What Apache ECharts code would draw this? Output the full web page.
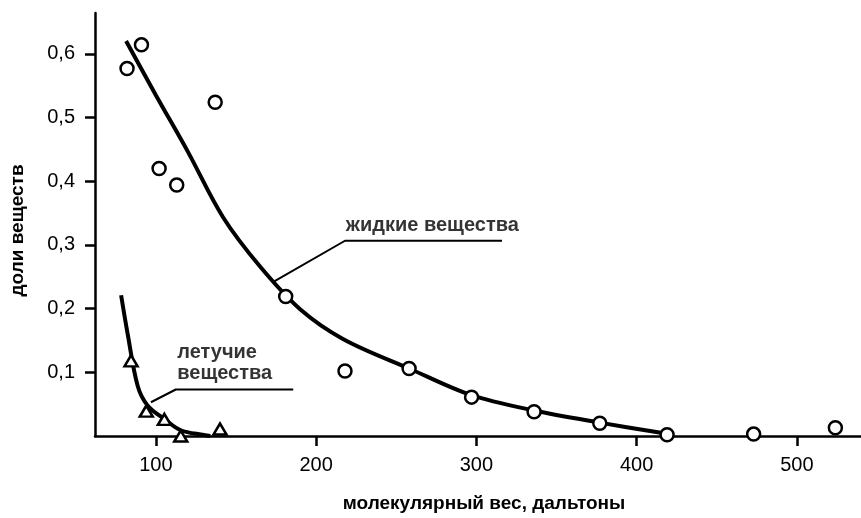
<!DOCTYPE html>
<html>
<head>
<meta charset="utf-8">
<script src="https://cdn.jsdelivr.net/npm/echarts@6/dist/echarts.min.js"></script>
<style>
  html, body { margin: 0; padding: 0; background: #fff; }
  #chart { width: 861px; height: 518px; }
</style>
</head>
<body>
<div id="chart"></div>
<script>
// ---- data ----
const xTicks = [100, 200, 300, 400, 500];
const yTicks = [0.1, 0.2, 0.3, 0.4, 0.5, 0.6];

// liquid substances (circles)
const liquidX = [82, 91, 102, 113, 137, 181, 218, 258, 297, 336, 377, 419, 473, 524];
const liquidY = [0.577, 0.614, 0.420, 0.394, 0.524, 0.219, 0.102, 0.106, 0.061, 0.038, 0.020, 0.002, 0.003, 0.013];

// volatile substances (triangles)
const volatileX = [84.5, 94, 105.3, 115.5, 140];
const volatileY = [0.118, 0.039, 0.026, 0.000, 0.011];

// hand-drawn trend curves
const liquidCurveX = [81.4, 100, 120, 142, 165, 190, 217, 258, 297, 336, 377, 420];
const liquidCurveY = [0.620, 0.535, 0.446, 0.343, 0.266, 0.199, 0.152, 0.106, 0.064, 0.040, 0.021, 0.003];
const volatileCurveX = [78.3, 82.4, 88.6, 94.8, 105.6, 115.5, 130, 134];
const volatileCurveY = [0.221, 0.160, 0.079, 0.048, 0.026, 0.009, 0.0015, 0.0];

// annotation leader lines and labels
const liquidLeaderX = [173.3, 218, 316];
const liquidLeaderY = [0.242, 0.3065, 0.3065];
const volatileLeaderX = [96.9, 112.4, 185.7];
const volatileLeaderY = [0.053, 0.073, 0.073];
const labelTexts = ['жидкие вещества', 'летучие', 'вещества'];
const labelX = [218.2, 113.0, 113.0];
const labelY = [0.331, 0.131, 0.098];

const xName = 'молекулярный вес, дальтоны';
const yName = 'доли веществ';

// ---- build ----
const zip = (a, b) => a.map((v, i) => [v, b[i]]);
const INK = '#000';
const FONT = '"Liberation Sans", Arial, sans-serif';

const chart = echarts.init(document.getElementById('chart'), null, { renderer: 'canvas' });

chart.setOption({
  animation: false,
  backgroundColor: '#fff',
  grid: { left: 92, right: 0, top: 13, bottom: 77, containLabel: false },
  xAxis: {
    type: 'value', min: 62, max: 540,
    splitLine: { show: false },
    axisLine: { show: true, onZero: false, lineStyle: { color: INK, width: 2.5 } },
    axisTick: { show: true, length: 10, customValues: xTicks, lineStyle: { color: INK, width: 2.5 } },
    axisLabel: { customValues: xTicks, margin: 19, color: INK, fontSize: 20, fontFamily: FONT },
    name: xName, nameLocation: 'middle', nameGap: 58,
    nameTextStyle: { color: INK, fontSize: 19, fontWeight: 'bold', fontFamily: FONT, padding: [0, 0, 0, 12] }
  },
  yAxis: {
    type: 'value', min: 0, max: 0.664,
    splitLine: { show: false },
    axisLine: { show: true, onZero: false, lineStyle: { color: INK, width: 2.5 } },
    axisTick: { show: true, length: 10, customValues: yTicks, lineStyle: { color: INK, width: 2.5 } },
    axisLabel: {
      customValues: yTicks, margin: 20, color: INK, fontSize: 20, fontFamily: FONT,
      formatter: v => v.toFixed(1).replace('.', ',')
    },
    name: yName, nameLocation: 'middle', nameGap: 68,
    nameTextStyle: { color: INK, fontSize: 19, fontWeight: 'bold', fontFamily: FONT, padding: [0, 12, 0, 0] }
  },
  series: [
    {
      type: 'line', data: zip(liquidCurveX, liquidCurveY), smooth: 0.35, symbol: 'none',
      lineStyle: { color: INK, width: 4 }, z: 2
    },
    {
      type: 'line', data: zip(volatileCurveX, volatileCurveY), smooth: 0.35, symbol: 'none',
      lineStyle: { color: INK, width: 4 }, z: 2
    },
    {
      type: 'line', data: zip(liquidLeaderX, liquidLeaderY), symbol: 'none',
      lineStyle: { color: INK, width: 2 }, z: 2
    },
    {
      type: 'line', data: zip(volatileLeaderX, volatileLeaderY), symbol: 'none',
      lineStyle: { color: INK, width: 2 }, z: 2
    },
    {
      type: 'scatter', data: zip(liquidX, liquidY), symbol: 'circle', symbolSize: 13,
      itemStyle: { color: '#fff', borderColor: INK, borderWidth: 2.5, opacity: 1 }, z: 5
    },
    {
      type: 'scatter', data: zip(volatileX, volatileY), symbol: 'triangle', symbolSize: [13, 11],
      itemStyle: { color: '#fff', borderColor: INK, borderWidth: 2.5, opacity: 1 }, z: 5
    },
    {
      type: 'scatter', symbol: 'circle', symbolSize: 1, z: 6,
      itemStyle: { color: 'rgba(0,0,0,0)' },
      data: labelTexts.map((t, i) => ({ name: t, value: [labelX[i], labelY[i]] })),
      label: {
        show: true, position: 'right', distance: 0, formatter: p => p.name,
        color: INK, fontSize: 20, fontWeight: 'bold', fontFamily: FONT
      }
    }
  ]
});
</script>
</body>
</html>
